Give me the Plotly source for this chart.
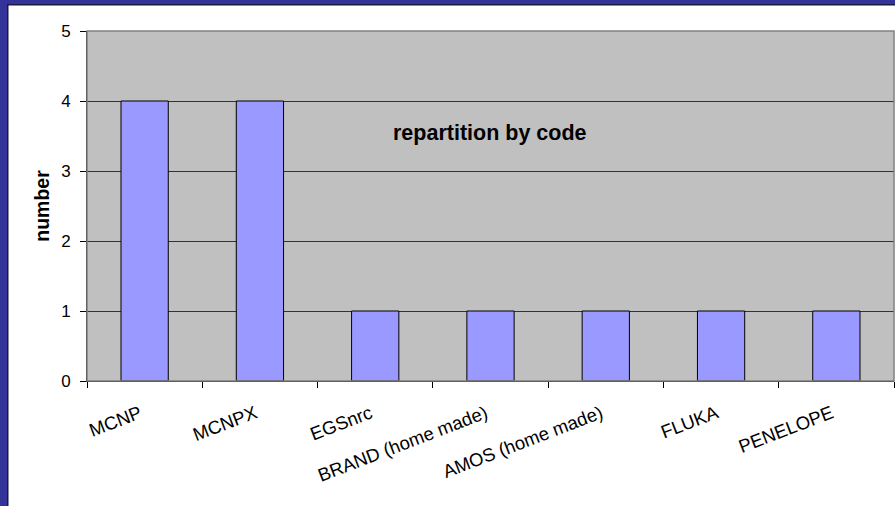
import plotly.graph_objects as go

categories = ["MCNP", "MCNPX", "EGSnrc", "BRAND (home made)", "AMOS (home made)", "FLUKA", "PENELOPE"]
counts = [4, 4, 1, 1, 1, 1, 1]
y_ticks = [0, 1, 2, 3, 4, 5]

W, H = 895, 506
L, R, T, B = 87, 1, 31, 125
pw, ph = W - L - R, H - T - B

def px_x(x):
    return (x - L) / pw

def px_y(y):
    return 1 - (y - T) / ph

fig = go.Figure()
fig.add_trace(go.Bar(
    x=categories, y=counts,
    marker=dict(color="#9999FF", line=dict(color="#000000", width=1)),
    hoverinfo="x+y",
))

font = "Liberation Sans, Arial, sans-serif"

fig.update_layout(
    width=W, height=H,
    margin=dict(l=L, r=R, t=T, b=B),
    paper_bgcolor="#FFFFFF",
    plot_bgcolor="#C0C0C0",
    bargap=0.59,
    showlegend=False,
    font=dict(family=font, color="#000000"),
    xaxis=dict(
        type="category",
        tickangle=-21,
        tickvals=categories,
        ticktext=[c + "\u00a0" for c in categories],
        ticks="outside", ticklen=6, tickcolor="#000000",
        tickson="boundaries",
        ticklabelstandoff=12,
        showline=True, linecolor="#000000", linewidth=1,
        showgrid=False,
        tickfont=dict(size=18.5, family=font),
    ),
    yaxis=dict(
        range=[0, 5],
        tickvals=y_ticks,
        ticks="outside", ticklen=6, tickcolor="#000000",
        ticklabelstandoff=6,
        showline=True, linecolor="#000000", linewidth=1,
        showgrid=True, gridcolor="#333333", gridwidth=1,
        zeroline=False,
        tickfont=dict(size=17, family=font),
        title=dict(text="<b>number</b>", font=dict(size=19.5, family=font), standoff=6),
    ),
    annotations=[dict(
        text="<b>repartition by code</b>",
        xref="paper", yref="paper",
        x=px_x(490), y=px_y(133),
        xanchor="center", yanchor="middle",
        showarrow=False,
        font=dict(size=21.5, family=font, color="#000000"),
    )],
    shapes=[
        dict(type="rect", xref="paper", yref="paper", x0=0, y0=0, x1=1, y1=1,
             line=dict(color="#808080", width=1.5), fillcolor="rgba(0,0,0,0)", layer="above"),
        dict(type="rect", xref="paper", yref="paper",
             x0=px_x(0), x1=px_x(W), y0=px_y(4), y1=px_y(0),
             fillcolor="#333399", line=dict(width=0), layer="above"),
        dict(type="rect", xref="paper", yref="paper",
             x0=px_x(7), x1=px_x(W), y0=px_y(5.5), y1=px_y(4),
             fillcolor="#1a1a40", line=dict(width=0), layer="above"),
        dict(type="rect", xref="paper", yref="paper",
             x0=px_x(0), x1=px_x(7), y0=px_y(H), y1=px_y(0),
             fillcolor="#333399", line=dict(width=0), layer="above"),
        dict(type="rect", xref="paper", yref="paper",
             x0=px_x(7), x1=px_x(8.5), y0=px_y(H), y1=px_y(4),
             fillcolor="#1a1a40", line=dict(width=0), layer="above"),
    ],
)

fig.write_html("out.html", config={"displayModeBar": False},
               post_script="document.body.style.margin='0';document.body.style.overflow='hidden';")
